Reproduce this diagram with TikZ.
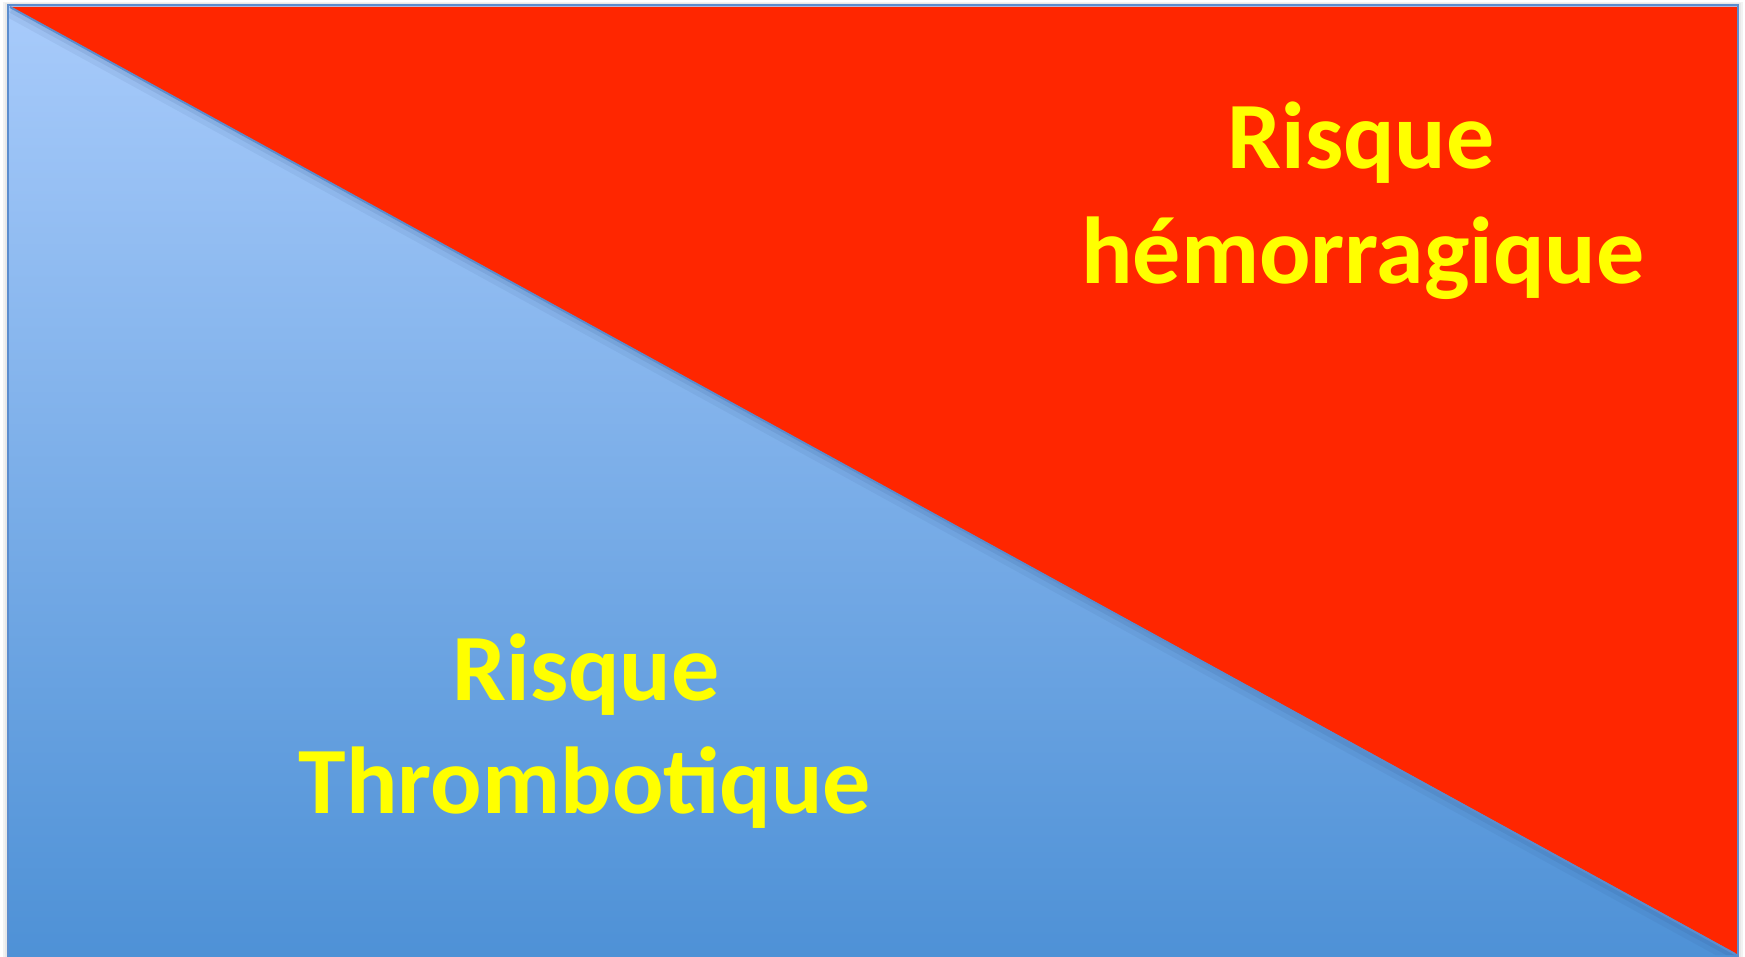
\documentclass[tikz,border=0pt]{standalone}
\usepackage{fontspec}
\setmainfont{Carlito}
\definecolor{rred}{RGB}{255,38,0}
\definecolor{btop}{RGB}{168,203,251}
\definecolor{bbot}{RGB}{78,145,214}
\definecolor{bord}{RGB}{92,141,206}
\definecolor{shad}{RGB}{40,70,120}
\definecolor{ylw}{RGB}{255,255,0}
\tikzset{
  lbl/.style={anchor=base, inner sep=0pt, text=ylw, xscale=1.01, font=\bfseries\fontsize{95}{114}\selectfont},
}
\begin{document}
\begin{tikzpicture}[x=1pt,y=-1pt]
\useasboundingbox (0,0) rectangle (1745,957);
\fill[white] (0,0) rectangle (1745,957);
% soft outer shadow
\fill[black!5] (3,2) rectangle (1743,957);
\fill[black!9] (5,3) rectangle (1741,957);
% blue background with gradient
\shade[top color=btop, bottom color=bbot] (8,5) rectangle (1738,958);
% red triangle
\fill[rred] (10,7) -- (1737,7) -- (1737,954) -- cycle;
% shadow under the diagonal
\begin{scope}
\clip (9,7) -- (1736,955) -- (9,957) -- cycle;
\draw[shad, opacity=0.07, line width=10pt] (10,13) -- (1735,960);
\draw[shad, opacity=0.10, line width=5pt] (10,10) -- (1735,957);
\end{scope}
\draw[bord, line width=2pt] (10,7) -- (1735,954);
% frame
\draw[bord, line width=2.5pt] (8,958) -- (8,5) -- (1738,5) -- (1738,958);
% labels
\node[lbl] (h1) at (1361,169) {Risque};
\node[lbl] (h2) at (1363,284) {hémorragique};
\node[lbl] (t1) at (586,700) {Risque};
\node[lbl] (t2) at (585,813) {Thrombotique};
\end{tikzpicture}
\end{document}
